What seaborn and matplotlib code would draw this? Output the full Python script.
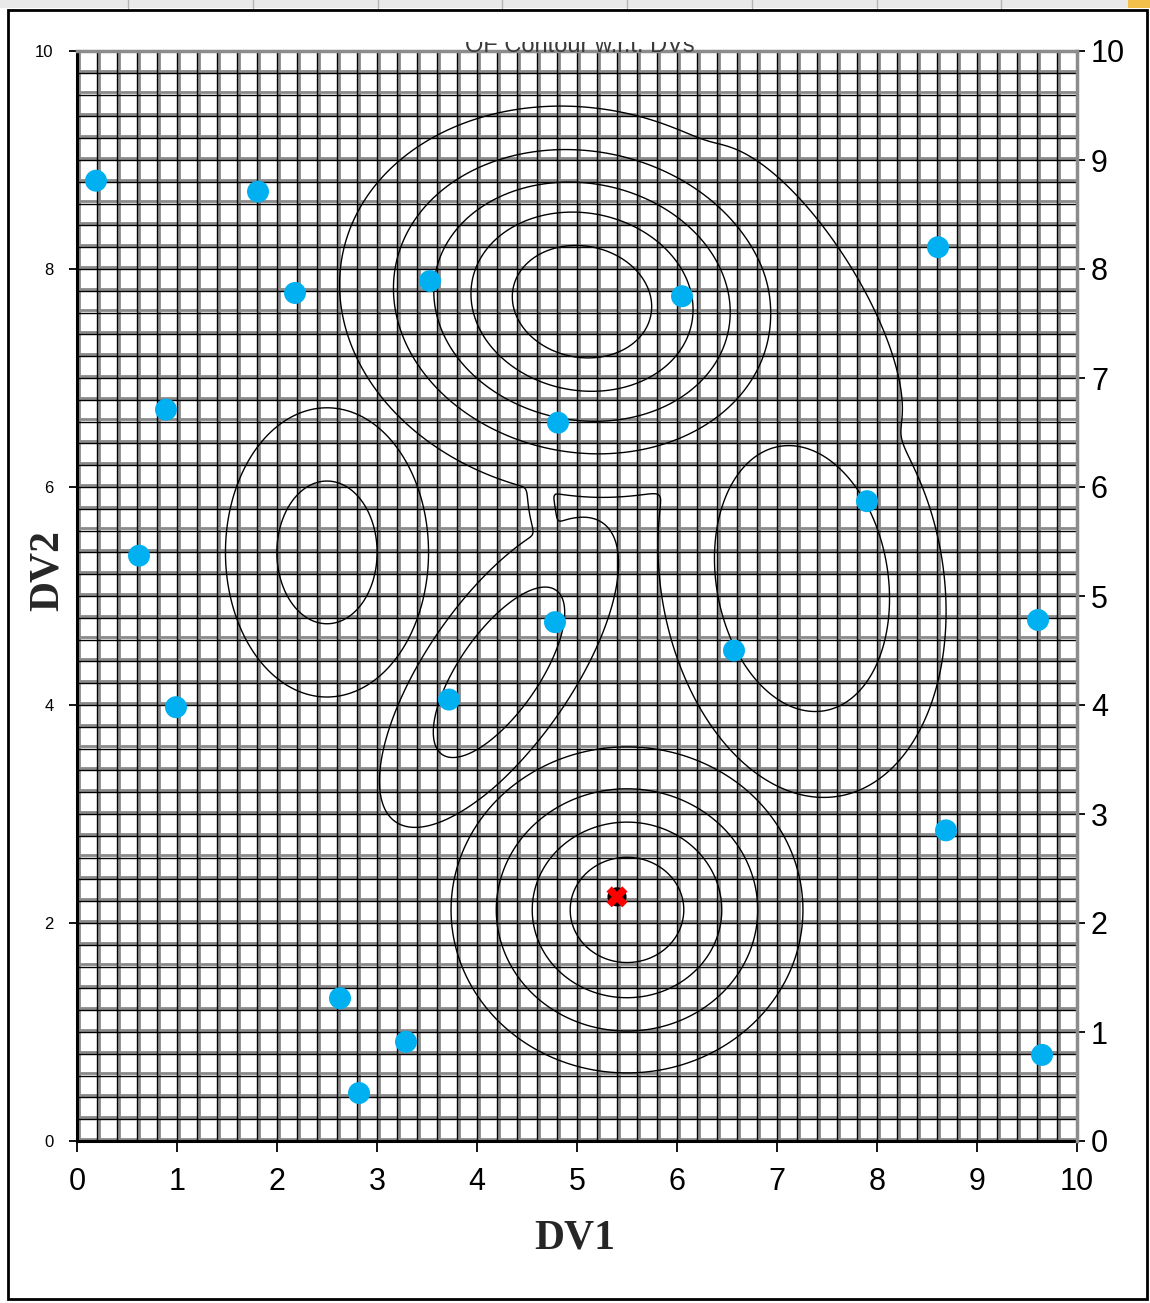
import numpy as np
import pandas as pd
import matplotlib
matplotlib.use("Agg")
import matplotlib.pyplot as plt
from matplotlib import font_manager
from matplotlib.patches import Rectangle
from matplotlib.lines import Line2D
import seaborn as sns

# ---------------- data ----------------
dv1 = [0.19, 1.81, 2.18, 3.53, 6.05, 8.61, 0.89, 4.81, 0.62, 7.90,
       4.78, 9.61, 6.57, 0.99, 3.72, 8.69, 2.63, 3.29, 2.82, 9.65]
dv2 = [8.81, 8.71, 7.78, 7.89, 7.75, 8.20, 6.71, 6.59, 5.37, 5.87,
       4.76, 4.78, 4.50, 3.98, 4.05, 2.85, 1.31, 0.91, 0.44, 0.79]
best_dv1 = [5.40]
best_dv2 = [2.24]

# contour surface: smooth bumps
bump_dv1 = [5.05, 5.50, 2.50, 4.22, 7.25, 7.20, 4.65]
bump_dv2 = [7.70, 2.12, 5.40, 4.30, 5.16, 7.75, 5.80]
bump_height = [5.78, 4.70, 2.50, 2.70, 3.00, 1.80, 1.30]
bump_width1 = [1.30, 1.00, 0.75, 1.22, 0.95, 1.50, 0.55]
bump_width2 = [0.95, 0.85, 0.98, 0.50, 1.37, 0.55, 0.18]
bump_angle = [-8.0, 0.0, 0.0, 52.0, 12.0, -55.0, 100.0]
blend_power = 14.0
contour_levels = [1, 2, 3, 4, 5]

x_ticks = list(range(0, 11))
left_ticks = [0, 2, 4, 6, 8, 10]
right_ticks = list(range(0, 11))
title_text = "OF Contour w.r.t. DVs"

# ---------------- style ----------------
sns.set_theme(style="white")
plt.rcParams['font.family'] = ['Liberation Sans', 'DejaVu Sans']
names = {f.name for f in font_manager.fontManager.ttflist}
tick_font = 'Liberation Sans Narrow' if 'Liberation Sans Narrow' in names else 'Liberation Sans'

W, H = 1150, 1303
fig = plt.figure(figsize=(W / 100, H / 100), dpi=100)
fig.patch.set_facecolor('white')
ax = fig.add_axes([77 / W, (H - 1141) / H, 1000 / W, 1090 / H])
ax.set_facecolor('white')

# surface
gx = np.linspace(0, 10, 601)
gy = np.linspace(0, 10, 601)
X, Y = np.meshgrid(gx, gy)
Z = np.zeros_like(X)
for cx, cy, a, s1, s2, ang in zip(bump_dv1, bump_dv2, bump_height,
                                  bump_width1, bump_width2, bump_angle):
    t = np.deg2rad(ang)
    dx, dy = X - cx, Y - cy
    u = dx * np.cos(t) + dy * np.sin(t)
    v = -dx * np.sin(t) + dy * np.cos(t)
    Z += (a * np.exp(-u ** 2 / (2 * s1 ** 2) - v ** 2 / (2 * s2 ** 2))) ** blend_power
Z = Z ** (1.0 / blend_power)
ax.contour(X, Y, Z, levels=contour_levels, colors='black', linewidths=1.0, zorder=2)

# grid (doubled black / grey look)
minor = np.round(np.arange(0, 10.001, 0.2), 2)
for v in minor:
    ax.axvline(v + 0.02, color='#8a8a8a', lw=2.0, zorder=0.3)
    ax.axhline(v + 0.02, color='#8a8a8a', lw=2.0, zorder=0.3)
ax.set_xticks(minor, minor=True)
ax.set_yticks(minor, minor=True)
ax.set_axisbelow(True)
ax.grid(which='both', color='black', lw=1.0)

# points
pts = pd.DataFrame({'DV1': dv1, 'DV2': dv2})
sns.scatterplot(data=pts, x='DV1', y='DV2', ax=ax, s=250, color='#00B0F0',
                edgecolor='none', linewidth=0, zorder=4, legend=False)
best = pd.DataFrame({'DV1': best_dv1, 'DV2': best_dv2})
sns.scatterplot(data=best, x='DV1', y='DV2', ax=ax, s=190, color='black',
                edgecolor='none', linewidth=0, zorder=5, legend=False)
sns.scatterplot(data=best, x='DV1', y='DV2', ax=ax, s=230, marker='X', color='red',
                edgecolor='none', linewidth=0, zorder=6, legend=False)

ax.set_xlim(0, 10)
ax.set_ylim(0, 10)
ax.set_xticks(x_ticks)
ax.set_yticks(left_ticks)
ax.set_xticklabels([str(t) for t in x_ticks])
ax.set_yticklabels([str(t) for t in left_ticks])
ax.tick_params(which='minor', length=0)
ax.tick_params(axis='x', which='major', direction='out', length=8, width=1.3,
               pad=11, labelsize=22, colors='black', bottom=True)
ax.tick_params(axis='y', which='major', direction='out', length=6, width=1.3,
               pad=11, labelsize=12, colors='black', left=True)
for lab in ax.get_xticklabels():
    lab.set_fontfamily(tick_font)
    lab.set_fontsize(25 if tick_font.endswith('Narrow') else 22)

for side in ['left', 'bottom']:
    ax.spines[side].set_color('black')
    ax.spines[side].set_linewidth(2.2)
ax.spines['top'].set_color('#8c8c8c')
ax.spines['top'].set_linewidth(2.5)
ax.spines['right'].set_visible(False)

ax2 = ax.twinx()
ax2.set_ylim(0, 10)
ax2.set_yticks(right_ticks)
ax2.set_yticklabels([str(t) for t in right_ticks])
ax2.tick_params(axis='y', direction='out', length=6, width=1.3, pad=4,
                labelsize=22, colors='black', right=True)
for lab in ax2.get_yticklabels():
    lab.set_fontfamily(tick_font)
    lab.set_fontsize(25 if tick_font.endswith('Narrow') else 22)
for side in ['left', 'top', 'bottom']:
    ax2.spines[side].set_visible(False)
ax2.spines['right'].set_color('#8c8c8c')
ax2.spines['right'].set_linewidth(2.5)
ax2.grid(False)

ax.set_xlabel('DV1', fontfamily='Liberation Serif', fontweight='bold', fontsize=30)
ax.set_ylabel('DV2', fontfamily='Liberation Serif', fontweight='bold', fontsize=30)
ax.xaxis.label.set_va('center')
ax.yaxis.label.set_va('center')
ax.xaxis.set_label_coords(0.498, -0.089)
ax.yaxis.set_label_coords(-0.029, 0.523)


# ---------------- frame decoration ----------------
def fx(x):
    return x / W


def fy(y):
    return 1 - y / H


fig.text(fx(580), fy(46), title_text, ha='center', va='center', fontsize=17,
         color='#3a3a3a', zorder=3)
fig.add_artist(Rectangle((fx(60), fy(42)), fx(1030), 32 / H, transform=fig.transFigure,
                         facecolor='white', edgecolor='none', zorder=4))
fig.add_artist(Rectangle((0, fy(8)), 1, 8 / H, transform=fig.transFigure,
                         facecolor='#e9e9e9', edgecolor='none', zorder=5))
for sx in [128, 253, 378, 502, 627, 752, 877, 1001]:
    fig.add_artist(Line2D([fx(sx), fx(sx)], [fy(8), 1], transform=fig.transFigure,
                          color='#b5b5b5', lw=1, zorder=6))
fig.add_artist(Rectangle((fx(1128), fy(8)), fx(22), 8 / H, transform=fig.transFigure,
                         facecolor='#f3c14b', edgecolor='none', zorder=6))
fig.add_artist(Rectangle((fx(8), fy(1299)), fx(1139), 1289 / H, transform=fig.transFigure,
                         facecolor='none', edgecolor='black', lw=2, zorder=7))

fig.savefig('out.png', dpi=100)
